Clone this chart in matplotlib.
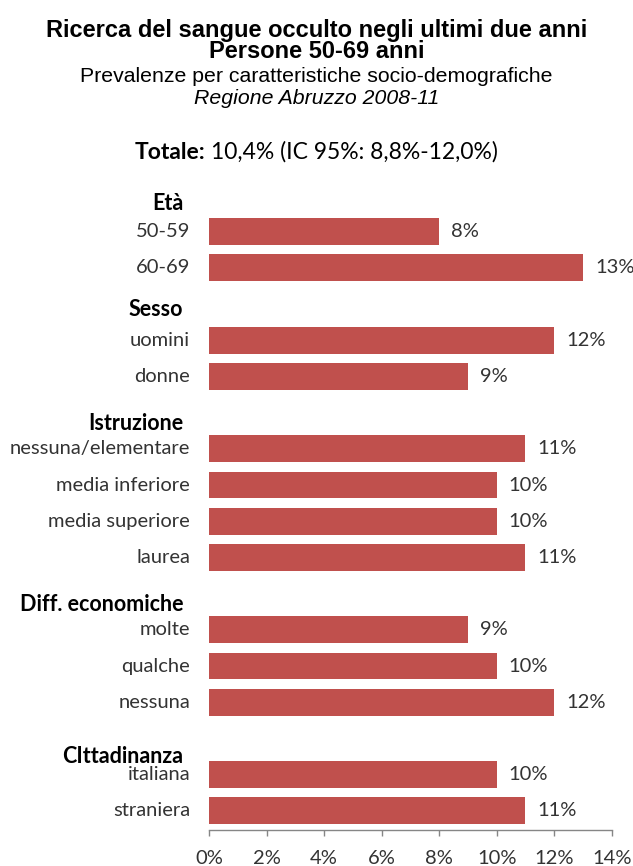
import matplotlib
matplotlib.use('Agg')
import matplotlib.pyplot as plt
import numpy as np

# data
groups = ['Età', 'Sesso', 'Istruzione', 'Diff. economiche', 'CIttadinanza']
group_labels = [
    ['50-59', '60-69'],
    ['uomini', 'donne'],
    ['nessuna/elementare', 'media inferiore', 'media superiore', 'laurea'],
    ['molte', 'qualche', 'nessuna'],
    ['italiana', 'straniera'],
]
group_values = [
    [8, 13],
    [12, 9],
    [11, 10, 10, 11],
    [9, 10, 12],
    [10, 11],
]
value_text = [
    ['8%', '13%'],
    ['12%', '9%'],
    ['11%', '10%', '10%', '11%'],
    ['9%', '10%', '12%'],
    ['10%', '11%'],
]
xticks = [0, 2, 4, 6, 8, 10, 12, 14]
xtick_labels = ['0%', '2%', '4%', '6%', '8%', '10%', '12%', '14%']

# header offset above the first bar of each group (in row units)
header_offset = [0.79, 0.84, 0.69, 0.69, 0.49]

BAR_COLOR = '#C0504D'
LABEL_FONT = 'Lato'
TITLE_FONT = 'Liberation Sans'
FS = 14.5

fig = plt.figure(figsize=(6.33, 8.66), dpi=100)
ax = fig.add_axes([209 / 633, 36 / 866, (611.7 - 209) / 633, (830 - 190) / 866])

ytrans = ax.get_yaxis_transform()
pos = -2
for g, name in enumerate(groups):
    pos += 2  # one empty row between groups
    first = pos
    for i, (lab, val, txt) in enumerate(zip(group_labels[g], group_values[g], value_text[g])):
        if i > 0:
            pos += 1
        ax.barh(pos, val, height=0.74, color=BAR_COLOR, edgecolor='none')
        ax.annotate(lab, xy=(0, pos), xycoords=ytrans, xytext=(-19 * 0.72, 0),
                    textcoords='offset points', ha='right', va='center',
                    fontsize=FS, family=LABEL_FONT, color='#333333')
        ax.annotate(txt, xy=(val, pos), xytext=(12 * 0.72, 0),
                    textcoords='offset points', ha='left', va='center',
                    fontsize=FS, family=LABEL_FONT, color='#333333')
    ax.annotate(name, xy=(0, first - header_offset[g]), xycoords=ytrans,
                xytext=(-26 * 0.72, 0), textcoords='offset points',
                ha='right', va='center', fontsize=15.5, fontweight='bold',
                family=LABEL_FONT, color='black')

ax.set_xlim(0, 14)
ax.set_ylim(16.53, -1.15)
ax.set_yticks([])
ax.set_xticks(xticks)
ax.set_xticklabels(xtick_labels, family=LABEL_FONT, fontsize=FS, color='#333333')
ax.tick_params(axis='x', direction='out', length=4.5, width=1, color='#868686', pad=10)
for s in ['left', 'top', 'right']:
    ax.spines[s].set_visible(False)
ax.spines['bottom'].set_color('#868686')
ax.spines['bottom'].set_linewidth(1)

fig.text(0.5, 1 - 30 / 866, 'Ricerca del sangue occulto negli ultimi due anni',
         ha='center', va='center', fontsize=17, fontweight='bold', family=TITLE_FONT)
fig.text(0.5, 1 - 52 / 866, 'Persone 50-69 anni',
         ha='center', va='center', fontsize=17, fontweight='bold', family=TITLE_FONT)
fig.text(0.5, 1 - 76 / 866, 'Prevalenze per caratteristiche socio-demografiche',
         ha='center', va='center', fontsize=15.3, family=TITLE_FONT)
fig.text(0.5, 1 - 98 / 866, 'Regione Abruzzo 2008-11',
         ha='center', va='center', fontsize=15.3, style='italic', family=TITLE_FONT)

t1 = fig.text(135 / 633, 1 - 159 / 866, 'Totale:', ha='left', va='baseline',
              fontsize=16.5, fontweight='bold', family=LABEL_FONT)
fig.canvas.draw()
bb = t1.get_window_extent()
fig.text(bb.x1 / fig.bbox.width + 5 / 633, 1 - 159 / 866, '10,4% (IC 95%: 8,8%-12,0%)',
         ha='left', va='baseline', fontsize=16.5, family=LABEL_FONT)

fig.savefig('out.png', dpi=100)
